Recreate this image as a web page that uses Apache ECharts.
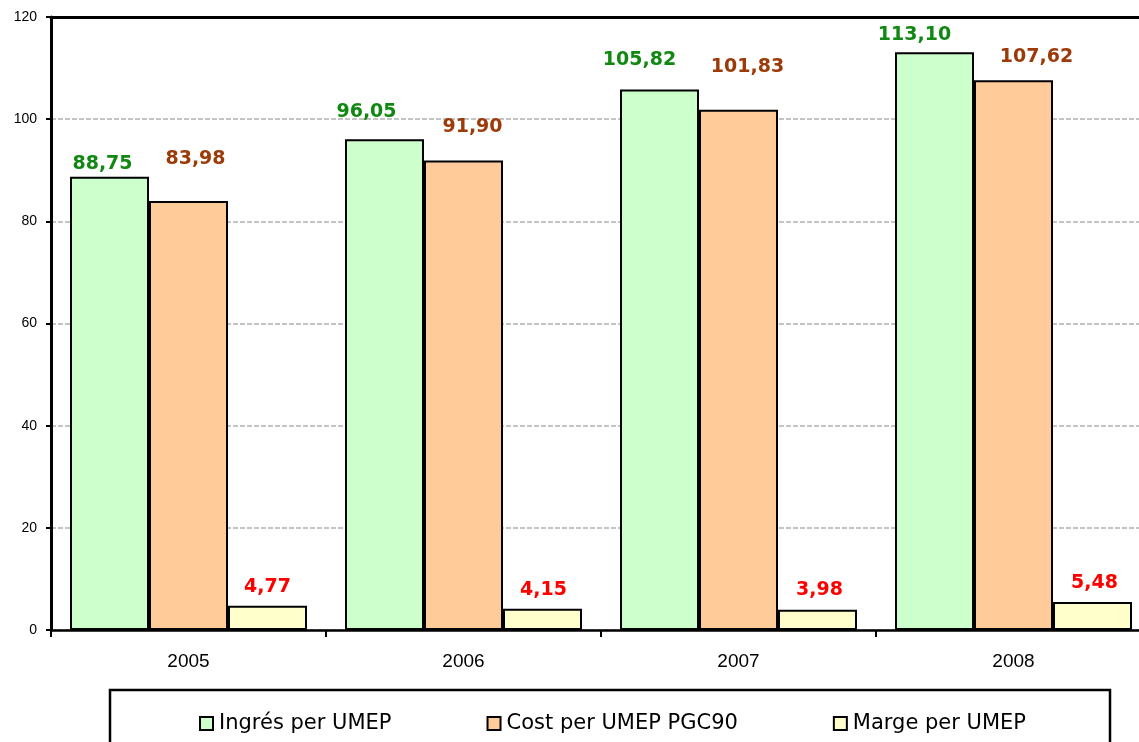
<!DOCTYPE html>
<html>
<head>
<meta charset="utf-8">
<script src="https://cdn.jsdelivr.net/npm/echarts@6/dist/echarts.min.js"></script>
<style>
  html, body { margin: 0; padding: 0; background: #fff; overflow: hidden; width: 1139px; height: 742px; }
  #chart { width: 1151px; height: 742px; }
</style>
</head>
<body>
<div id="chart"></div>
<script>
// ---- data ----
const categories = ['2005', '2006', '2007', '2008'];
const seriesNames = ['Ingrés per UMEP', 'Cost per UMEP PGC90', 'Marge per UMEP'];
const ingres = [88.75, 96.05, 105.82, 113.10];
const cost = [83.98, 91.90, 101.83, 107.62];
const marge = [4.77, 4.15, 3.98, 5.48];
const yTicks = { min: 0, max: 120, interval: 20 };

// ---- label placement (styling, mirrors hand-placed labels in the reference) ----
const labelNudgeIngres = [[-7, -3], [-18, -17], [-20, -19], [-20, -7]];
const labelNudgeCost = [[7, -32], [9, -23], [9, -33], [23, -13]];
const labelNudgeMarge = [[0, -9], [1, -9], [2, -10], [2, -9]];

const fmt = v => Number(v).toFixed(2).replace('.', ',');

function makeSeries(name, values, nudges, fill, labelColor) {
  return {
    name: name,
    type: 'bar',
    barWidth: 79,
    barGap: '0%',
    itemStyle: { color: fill, borderColor: '#000', borderWidth: 2 },
    label: {
      show: true,
      position: 'top',
      distance: 0,
      color: labelColor,
      fontFamily: 'DejaVu Sans',
      fontWeight: 'bold',
      fontSize: 19,
      lineHeight: 20,
      formatter: p => fmt(p.value)
    },
    data: values.map((v, i) => ({ value: v, label: { offset: nudges[i] } }))
  };
}

const chart = echarts.init(document.getElementById('chart'), null, { renderer: 'canvas' });
chart.setOption({
  animation: false,
  backgroundColor: '#fff',
  grid: { left: 51, right: 0, top: 17, bottom: 112, containLabel: false },
  xAxis: [
    {
      type: 'category',
      data: categories,
      boundaryGap: true,
      axisLine: { show: true, lineStyle: { color: '#000', width: 2.5 } },
      axisTick: { show: true, length: 7, lineStyle: { color: '#000', width: 2 } },
      axisLabel: { color: '#000', fontFamily: 'Liberation Sans', fontSize: 19, margin: 22 },
      splitLine: { show: false }
    },
    {
      type: 'category',
      data: categories,
      position: 'top',
      axisLine: { show: true, lineStyle: { color: '#000', width: 3 } },
      axisTick: { show: false },
      axisLabel: { show: false },
      splitLine: { show: false }
    }
  ],
  yAxis: {
    type: 'value',
    min: yTicks.min,
    max: yTicks.max,
    interval: yTicks.interval,
    axisLine: { show: true, lineStyle: { color: '#000', width: 3 } },
    axisTick: { show: true, length: 5, lineStyle: { color: '#000', width: 2 } },
    axisLabel: { color: '#000', fontFamily: 'Liberation Sans', fontSize: 14, margin: 14 },
    splitLine: { show: true, lineStyle: { color: '#c4c4c4', width: 2, type: [5, 2] } }
  },
  legend: {
    data: seriesNames,
    left: 194,
    top: 708,
    orient: 'horizontal',
    itemWidth: 13,
    itemHeight: 13,
    itemGap: 95,
    icon: 'rect',
    itemStyle: { borderColor: '#000', borderWidth: 2 },
    textStyle: { color: '#000', fontFamily: 'DejaVu Sans', fontSize: 21, lineHeight: 20, padding: [0, 0, 0, 1] }
  },
  graphic: [
    {
      type: 'rect',
      shape: { x: 110, y: 690, width: 1000, height: 80 },
      style: { fill: 'none', stroke: '#000', lineWidth: 2.5 },
      z: 10,
      silent: true
    }
  ],
  series: [
    makeSeries(seriesNames[0], ingres, labelNudgeIngres, '#CCFFCC', '#118811'),
    makeSeries(seriesNames[1], cost, labelNudgeCost, '#FFCC99', '#9c3a08'),
    makeSeries(seriesNames[2], marge, labelNudgeMarge, '#FFFFCC', '#ff0000')
  ]
});
</script>
</body>
</html>
